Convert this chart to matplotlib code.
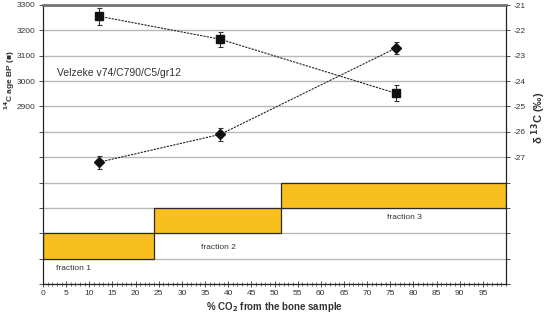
import numpy as np
import matplotlib
matplotlib.use("Agg")
import matplotlib.pyplot as plt
from matplotlib.ticker import MultipleLocator

plt.rcParams['font.family'] = ['Liberation Sans', 'DejaVu Sans']

# data
co2_pct = [12, 38.3, 76.2]
age_bp = [3256, 3165, 2952]
age_err = [33, 30, 32]
d13c = [-27.2, -26.1, -22.7]
d13c_err = [0.25, 0.25, 0.25]

frac_names = ["fraction 1", "fraction 2", "fraction 3"]
frac_start = [0, 24.0, 51.5]
frac_end = [24.0, 51.5, 100]
frac_low = [2300, 2400, 2500]
frac_high = [2400, 2500, 2600]
frac_label_x = [6.5, 37.8, 78.0]
frac_label_y = [2263, 2343, 2462]

left_ticks = np.arange(2200, 3301, 100)
left_labels = [str(v) if v >= 2900 else "" for v in left_ticks]
right_ticks = np.arange(-32, -20, 1)
right_labels = [str(v) if v >= -27 else "" for v in right_ticks]
x_ticks = np.arange(0, 100, 5)

fig = plt.figure(figsize=(5.48, 3.18), dpi=100)
ax = fig.add_axes([43 / 548, 1 - 284 / 318, 463 / 548, 279 / 318])
ax2 = ax.twinx()

txt = "#333333"
gold = "#F9BF1F"

# fraction boxes
for s, e, lo, hi in zip(frac_start, frac_end, frac_low, frac_high):
    ax.bar(s, hi - lo, width=e - s, bottom=lo, align="edge", color=gold,
           edgecolor="#2a2a2a", linewidth=0.9, zorder=2)
for name, x, y in zip(frac_names, frac_label_x, frac_label_y):
    ax.text(x, y, name, fontsize=6, color=txt, ha="center", va="center")

# 14C ages (squares)
ax.errorbar(co2_pct, age_bp, yerr=age_err, fmt="s", color="#111111",
            markersize=6.2, ecolor="#333333", elinewidth=0.8, capsize=1.8,
            capthick=0.8, zorder=4)
ax.plot(co2_pct, age_bp, color="#222222", linestyle=(0, (2, 1)),
        linewidth=0.8, zorder=3)

# d13C (diamonds)
ax2.errorbar(co2_pct, d13c, yerr=d13c_err, fmt="D", color="#111111",
             markersize=5, ecolor="#333333", elinewidth=0.8, capsize=1.8,
             capthick=0.8, zorder=4)
ax2.plot(co2_pct, d13c, color="#222222", linestyle=(0, (2, 1)),
         linewidth=0.8, zorder=3)

ax.set_xlim(0, 100)
ax.set_ylim(2200, 3300)
ax2.set_ylim(-32, -21)

ax.set_xticks(x_ticks)
ax.xaxis.set_minor_locator(MultipleLocator(1))
ax.set_yticks(left_ticks)
ax.set_yticklabels(left_labels)
ax2.set_yticks(right_ticks)
ax2.set_yticklabels(right_labels)

ax.grid(axis="y", color="#b8b8b8", linewidth=1.0, zorder=0)
ax.set_axisbelow(True)

ax.tick_params(axis="both", labelsize=6, colors=txt, length=3, width=0.6,
               pad=2.5)
ax.tick_params(axis="x", which="major", direction="inout", length=4)
ax.tick_params(axis="x", which="minor", direction="inout", length=2.5,
               width=0.5, colors=txt)
ax2.tick_params(axis="y", labelsize=6, colors=txt, length=3, width=0.6,
                pad=2.5)

for a in (ax, ax2):
    a.spines["left"].set_color("#222222")
    a.spines["right"].set_color("#222222")
    a.spines["bottom"].set_color("#222222")
    a.spines["top"].set_color("#777777")
    a.spines["top"].set_linewidth(1.8)

ax.set_xlabel("% CO$_\\mathbf{2}$ from the bone sample", fontsize=7,
              fontweight="bold", color=txt, labelpad=2)

fig.text(10 / 548, 1 - 80 / 318, "$^{\\mathbf{14}}$C age BP (\u25a0)",
         rotation=90, fontsize=6, fontweight="bold", color=txt,
         ha="center", va="center")
fig.text(539 / 548, 1 - 118 / 318, "\u03b4 $^{\\mathbf{13}}$C (\u2030)",
         rotation=90, fontsize=8, fontweight="bold", color=txt,
         ha="center", va="center")

ax.text(3.0, 3030, "Velzeke v74/C790/C5/gr12", fontsize=7.5, color=txt,
        ha="left", va="center")

fig.savefig("out.png", dpi=100)
